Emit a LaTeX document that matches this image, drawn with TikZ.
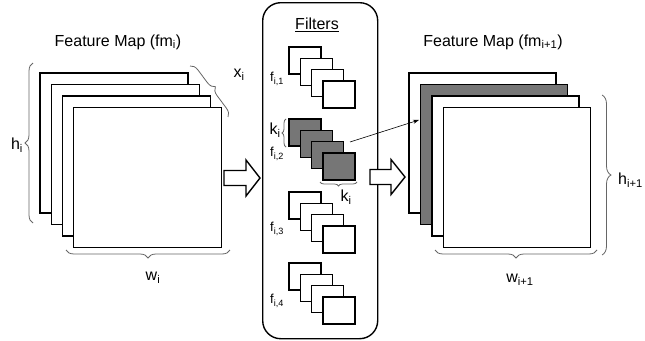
\documentclass[tikz,border=0pt]{standalone}
\usepackage{fontspec}
\setmainfont{Liberation Sans}
\usetikzlibrary{decorations.pathreplacing,arrows.meta,calc}
\definecolor{fillgray}{HTML}{767676}
\definecolor{bracegray}{HTML}{666666}
\newcommand{\fsT}{\fontsize{16}{19}\selectfont}
\newcommand{\fsL}{\fontsize{16}{19}\selectfont}
\newcommand{\fsF}{\fontsize{13}{15}\selectfont}
\begin{document}
\begin{tikzpicture}[x=1pt,y=-1pt,
  fmap/.style={draw=black,line width=1.8pt,fill=white,minimum width=148pt,minimum height=140pt,anchor=north west,inner sep=0pt,outer sep=0pt},
  fmapdark/.style={fmap,fill=fillgray},
  filt/.style={draw=black,line width=1.4pt,fill=white,minimum width=32pt,minimum height=27pt,anchor=north west,inner sep=0pt,outer sep=0pt},
  filtdark/.style={filt,fill=fillgray},
  brc/.style={draw=bracegray,line width=0.8pt,decorate,decoration={brace,amplitude=#1}},
  hollow/.style={draw=black,line width=1.4pt,fill=white,line join=miter},
  lbl/.style={inner sep=0pt,font=\fsL},
  flbl/.style={inner sep=0pt,font=\fsF},
  ttl/.style={inner sep=0pt,font=\fsT},
]
\useasboundingbox (0,0) rectangle (645,340);
\fill[white] (0,0) rectangle (645,340);

% ---- left feature map ----
\node[fmap] (L1) at (40,73) {};
\node[fmap] (L2) at (51.5,84.5) {};
\node[fmap] (L3) at (62.5,96) {};
\node[fmap] (L4) at (73.5,107.5) {};
\node[ttl] (tL) at (118,42) {Feature Map (fm\textsubscript{i})};

\draw[brc=8pt] (33,223) -- (33,63);
\node[lbl] (hL) at (17,145) {h\textsubscript{i}};
\draw[brc=8pt] (190,66) -- (228,117);
\node[lbl] (xL) at (239,75) {x\textsubscript{i}};
\draw[brc=8pt] (230,250) -- (66,250);
\node[lbl] (wL) at (153,278) {w\textsubscript{i}};

% ---- hollow arrow 1 ----
\coordinate (a1) at (224,178);
\draw[hollow] (a1) ++(0,-7.5) -- ++(22,0) -- ++(0,-10.5) -- (260,178) -- (246,196) -- ++(0,-10.5) -- ++(-22,0) -- cycle;

% ---- filters panel ----
\node[draw=black,line width=1.4pt,rounded corners=18pt,minimum width=115pt,minimum height=336pt,anchor=north west,inner sep=0pt] (panel) at (262,2) {};
\node[ttl] (ft) at (317,25) {\underline{Filters}};

% group 1
\node[filt] (a11) at (289,47) {};
\node[filt] (a12) at (300.3,58.3) {};
\node[filt] (a13) at (311.6,69.6) {};
\node[filt] (a14) at (323,81) {};
\node[flbl] (f1) at (277,79) {f\textsubscript{i,1}};
% group 2
\node[filtdark] (a21) at (289,119) {};
\node[filtdark] (a22) at (300.3,130.3) {};
\node[filtdark] (a23) at (311.6,141.6) {};
\node[filtdark] (a24) at (323,153) {};
\node[flbl] (f2) at (277,154) {f\textsubscript{i,2}};
\draw[brc=4pt] (286,147) -- (286,119);
\node[lbl] (k1) at (275,130) {k\textsubscript{i}};
\draw[brc=4pt] (357,182) -- (320,182);
\node[lbl] (k2) at (346,197) {k\textsubscript{i}};
% group 3
\node[filt] (a31) at (289,192) {};
\node[filt] (a32) at (300.3,203.3) {};
\node[filt] (a33) at (311.6,214.6) {};
\node[filt] (a34) at (323,226) {};
\node[flbl] (f3) at (277,229) {f\textsubscript{i,3}};
% group 4
\node[filt] (a41) at (289,263) {};
\node[filt] (a42) at (300.3,274.3) {};
\node[filt] (a43) at (311.6,285.6) {};
\node[filt] (a44) at (323,297) {};
\node[flbl] (f4) at (277,301) {f\textsubscript{i,4}};

% ---- hollow arrow 2 ----
\coordinate (a2) at (370,177);
\draw[hollow] (a2) ++(0,-7.5) -- ++(21,0) -- ++(0,-10) -- (405,177) -- (391,194.5) -- ++(0,-10) -- ++(-21,0) -- cycle;

% ---- right feature map ----
\node[fmap,minimum width=147pt] (R1) at (409,73) {};
\node[fmapdark,minimum width=147pt] (R2) at (420.5,84.5) {};
\node[fmap,minimum width=147pt] (R3) at (432,96) {};
\node[fmap,minimum width=147pt] (R4) at (443.5,107.5) {};
\node[ttl] (tR) at (493,42) {Feature Map (fm\textsubscript{i+1})};

\draw[brc=9pt] (602,95) -- (602,255);
\node[lbl,anchor=west] (hR) at (618,180) {h\textsubscript{i+1}};
\draw[brc=8pt] (597,250) -- (435,250);
\node[lbl] (wR) at (520,280) {w\textsubscript{i+1}};

% ---- thin arrow ----
\coordinate (s) at (350,142);
\coordinate (t) at (419,120);
\draw[line width=0.6pt,-{Stealth[length=6pt,width=4pt]}] (s) -- (t);
\end{tikzpicture}
\end{document}
